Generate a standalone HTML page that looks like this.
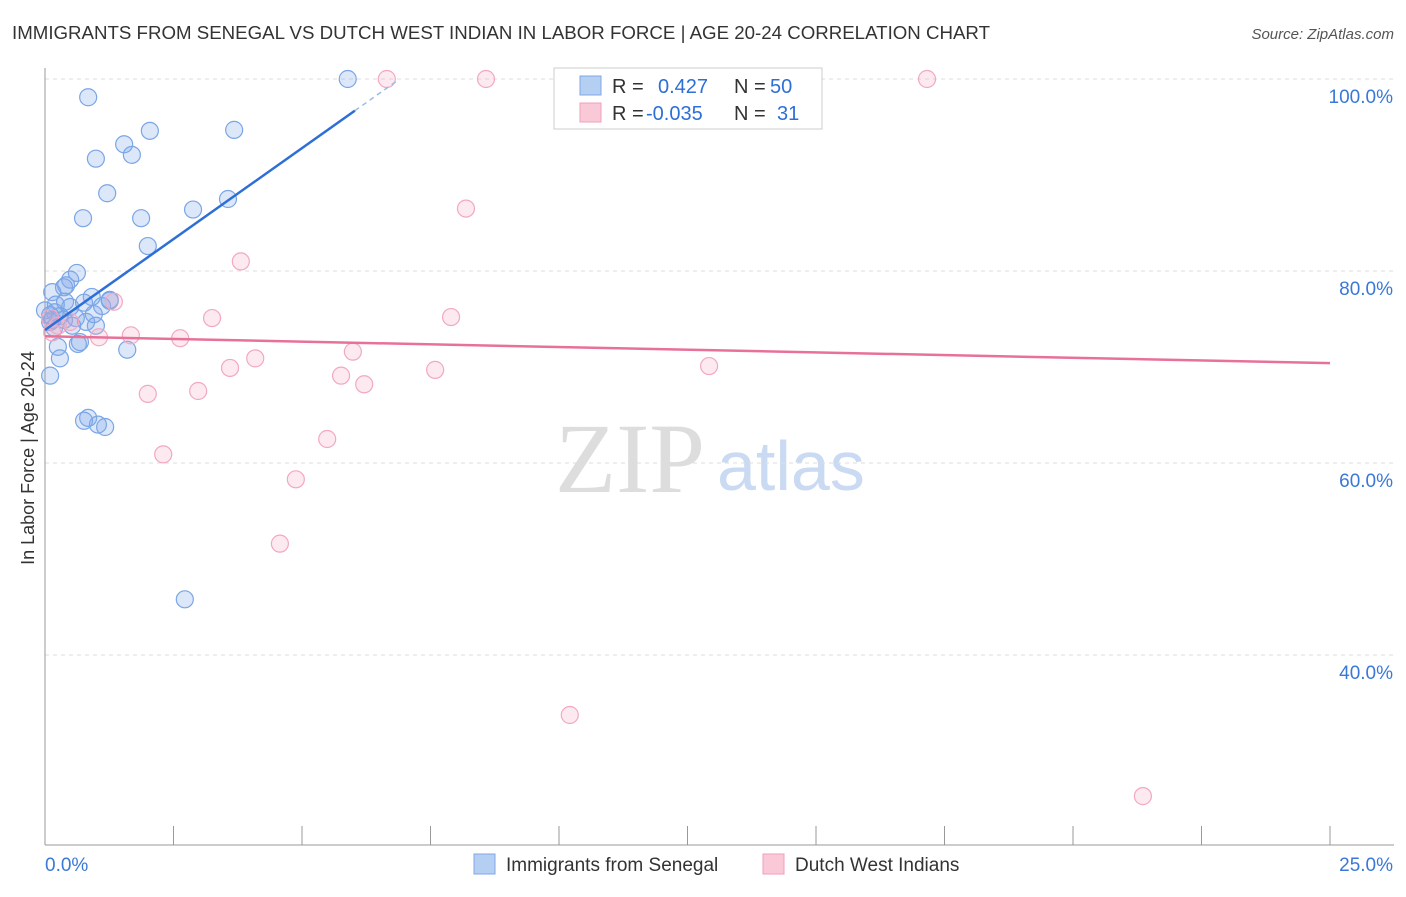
<!DOCTYPE html>
<html><head><meta charset="utf-8"><style>
body{margin:0;background:#fff;font-family:"Liberation Sans",sans-serif;}
</style></head><body>
<svg width="1406" height="892" xmlns="http://www.w3.org/2000/svg" id="svg">
<text x="12" y="39" font-size="18" fill="#333" textLength="978" lengthAdjust="spacingAndGlyphs">IMMIGRANTS FROM SENEGAL VS DUTCH WEST INDIAN IN LABOR FORCE | AGE 20-24 CORRELATION CHART</text>
<text x="1394" y="39" font-size="15" fill="#555" font-style="italic" text-anchor="end">Source: ZipAtlas.com</text>
<text x="555" y="492" font-size="100" fill="#ddd" font-family="Liberation Serif,serif">ZIP</text>
<text x="717" y="490" font-size="70" fill="#c9daf2">atlas</text>
<text transform="translate(34,458) rotate(-90)" font-size="18" fill="#333" text-anchor="middle">In Labor Force | Age 20-24</text>
<g id="grid"></g><g id="marks"></g>
<g>
<rect x="554" y="68" width="268" height="61" fill="#fff" stroke="#ccc"/>
<rect x="580" y="76" width="21" height="19" fill="#b5cff3" stroke="#7fa7e4"/>
<rect x="580" y="103" width="21" height="19" fill="#f9c9d8" stroke="#f0a0bb"/>
<text x="612" y="93" font-size="20" fill="#333">R = <tspan fill="#2d6fd6" x="658">0.427</tspan><tspan fill="#333" x="734">N =</tspan><tspan fill="#2d6fd6" x="770">50</tspan></text>
<text x="612" y="120" font-size="20" fill="#333">R = <tspan fill="#2d6fd6" x="646">-0.035</tspan><tspan fill="#333" x="734">N =</tspan><tspan fill="#2d6fd6" x="777">31</tspan></text>
</g>
<g>
<rect x="474" y="854" width="21" height="20" fill="#b5cff3" stroke="#7fa7e4"/>
<text x="506" y="871" font-size="19" fill="#333">Immigrants from Senegal</text>
<rect x="763" y="854" width="21" height="20" fill="#f9c9d8" stroke="#f0a0bb"/>
<text x="795" y="871" font-size="19" fill="#333">Dutch West Indians</text>
</g>
</svg>
<script>
const yTicks=[40,60,80,100];
const xTickLabels=["0.0%","25.0%"];
const blueX=[5.89,0.84,1.54,2.04,3.68,0.99,1.69,1.21,3.56,0.74,1.87,2.88,2.00,0.62,0.49,0.41,0.37,0.14,0.91,0.39,1.26,0.76,0.49,0.21,1.11,0.95,0.10,0.29,0.60,0.14,0.80,0.53,0.99,0.18,0.10,0.68,0.64,1.60,0.25,0.29,0.10,0.84,0.76,1.03,1.17,2.72,1.26,0.0,0.19,0.37];
const blueY=[100,98.1,93.2,94.6,94.7,91.7,92.1,88.1,87.5,85.5,85.5,86.4,82.6,79.8,79.1,78.5,78.3,77.8,77.3,76.8,76.9,76.7,76.25,76.5,76.35,75.5,75.4,75.3,75.1,74.9,74.7,74.3,74.3,74.1,74.7,72.6,72.4,71.8,72.1,70.9,69.1,64.7,64.4,64.0,63.75,45.8,77.0,75.9,75.7,74.9];
const pinkX=[6.65,8.58,13.46,17.16,8.19,3.81,1.34,3.25,7.90,1.67,1.05,2.63,5.99,4.09,3.60,5.76,7.59,6.21,12.92,2.00,2.98,5.49,2.30,4.88,4.57,10.21,21.36,0.10,0.14,0.25,0.49];
const pinkY=[100,100,100,100,86.5,81.0,76.8,75.1,75.2,73.3,73.1,73.0,71.6,70.9,69.9,69.1,69.7,68.2,70.1,67.2,67.5,62.5,60.9,58.3,51.6,33.75,25.3,75.1,73.6,74.3,74.7];
const blueTrend=[73.85,3.79];
const pinkTrend=[73.2,-0.112];
const NS="http://www.w3.org/2000/svg";
const sx=v=>45+v/25*1285, sy=v=>79+(100-v)/20*192;
function mk(t,a,p){const e=document.createElementNS(NS,t);for(const k in a)e.setAttribute(k,a[k]);p.appendChild(e);return e;}
const grid=document.getElementById('grid'),marks=document.getElementById('marks');
yTicks.forEach(v=>{
 const l=mk('line',{x1:45,x2:1394,y1:sy(v),y2:sy(v),stroke:'#ddd','stroke-dasharray':'4,4'},grid);
 
 
 const t=mk('text',{x:1393,y:sy(v)+24,'font-size':19,fill:'#3a78d8','text-anchor':'end'},grid);
 t.textContent=v.toFixed(1)+'%';
 
 
});
mk('line',{x1:45,x2:45,y1:68,y2:845,stroke:'#999'},grid);
mk('line',{x1:45,x2:1394,y1:845,y2:845,stroke:'#999'},grid);
for(let i=0;i<=10;i++){const x=sx(i*2.5);mk('line',{x1:x,x2:x,y1:826,y2:845,stroke:'#999'},grid);}
xTickLabels.forEach((s,i)=>{
 const t=mk('text',{x:i?1393:45,y:871,'font-size':19,fill:'#3a78d8','text-anchor':i?'end':'start'},grid);
 t.textContent=s;
 
 
});
blueX.forEach((x,i)=>{
 const c=mk('circle',{cx:sx(x),cy:sy(blueY[i]),r:8.5,fill:'rgba(130,170,235,0.28)',stroke:'#7aa6e6','stroke-width':1.2},marks);
 
 
});
pinkX.forEach((x,i)=>{
 const c=mk('circle',{cx:sx(x),cy:sy(pinkY[i]),r:8.5,fill:'rgba(245,170,195,0.25)',stroke:'#f2a8c0','stroke-width':1.2},marks);
 
 
});
let l=mk('line',{x1:sx(0),y1:sy(blueTrend[0]),x2:sx(6.03),y2:sy(blueTrend[0]+blueTrend[1]*6.03),stroke:'#2d6fd6','stroke-width':2.5},marks);


l=mk('line',{x1:sx(6.03),y1:sy(blueTrend[0]+blueTrend[1]*6.03),x2:sx(6.85),y2:sy(blueTrend[0]+blueTrend[1]*6.85),stroke:'#9bbbe9','stroke-width':1.5,'stroke-dasharray':'5,4'},marks);


l=mk('line',{x1:sx(0),y1:sy(pinkTrend[0]),x2:sx(25),y2:sy(pinkTrend[0]+pinkTrend[1]*25),stroke:'#e8719a','stroke-width':2.5},marks);


</script>
</body></html>
